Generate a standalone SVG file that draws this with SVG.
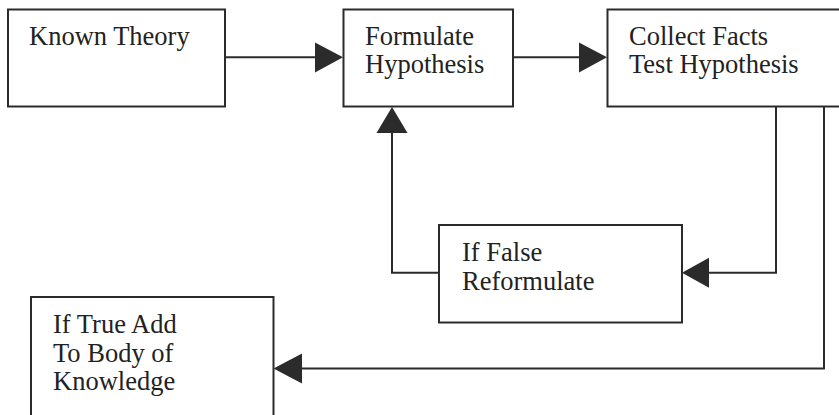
<svg xmlns="http://www.w3.org/2000/svg" width="839" height="415" viewBox="0 0 839 415">
<style>
.box{fill:#fff;stroke:#2b2b2b;stroke-width:2}
.lbl{font-family:'Liberation Serif','DejaVu Serif',serif;font-size:26.5px;fill:#222}
.con{fill:none;stroke:#2b2b2b;stroke-width:2}
.head{fill:#2b2b2b;stroke:none}
</style>
<rect width="839" height="415" fill="#fff"/>
<g id="connectors">
<path class="con" d="M225,57.3 H318"/>
<polygon class="head" points="343,57.3 315,42.5 315,72.5"/>
<path class="con" d="M513,57.3 H582"/>
<polygon class="head" points="607,57.3 579,42.5 579,72.5"/>
<path class="con" d="M776,106 V272.7 H705"/>
<polygon class="head" points="682,272.7 709,257.7 709,287.7"/>
<path class="con" d="M439,272.7 H392 V130"/>
<polygon class="head" points="392,107 376.5,133 407.5,133"/>
<path class="con" d="M824,106 V368.5 H298"/>
<polygon class="head" points="273.5,368.5 302,353.5 302,383.5"/>
</g>
<g id="known-theory">
<rect class="box" x="8" y="9.5" width="217" height="97"/>
<text class="lbl" x="29" y="45">Known Theory</text>
</g>
<g id="formulate-hypothesis">
<rect class="box" x="343.5" y="9.5" width="169.5" height="97"/>
<text class="lbl" x="365" y="45">Formulate</text>
<text class="lbl" x="365" y="73">Hypothesis</text>
</g>
<g id="collect-facts">
<rect class="box" x="607.5" y="9.5" width="240" height="97"/>
<text class="lbl" x="629" y="45">Collect Facts</text>
<text class="lbl" x="629" y="73">Test Hypothesis</text>
</g>
<g id="if-false">
<rect class="box" x="439" y="225" width="243" height="97.5"/>
<text class="lbl" x="462" y="261">If False</text>
<text class="lbl" x="462" y="290">Reformulate</text>
</g>
<g id="if-true">
<rect class="box" x="31" y="297" width="242.5" height="130"/>
<text class="lbl" x="53" y="333">If True Add</text>
<text class="lbl" x="53" y="362">To Body of</text>
<text class="lbl" x="53" y="390">Knowledge</text>
</g>
</svg>
